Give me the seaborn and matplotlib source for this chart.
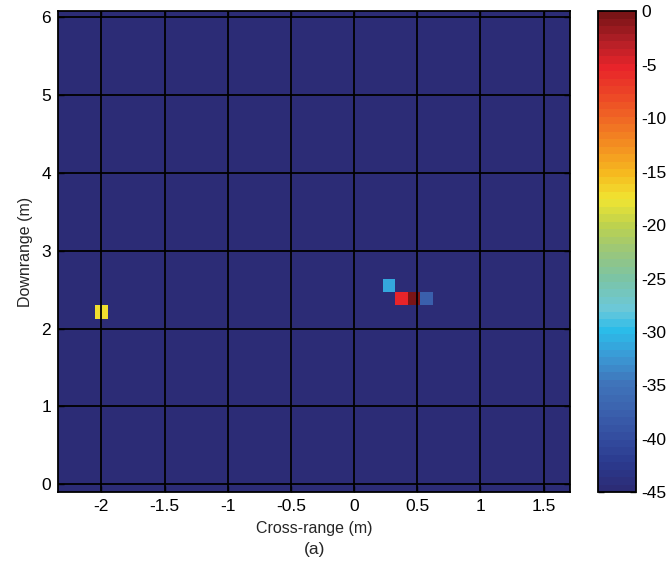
import numpy as np
import pandas as pd
import matplotlib
matplotlib.use('Agg')
import matplotlib.pyplot as plt
import seaborn as sns
from matplotlib.colors import LinearSegmentedColormap

# image grid (cross-range x downrange)
x_first_edge = -2.344
x_step = 0.09885
n_cols = 41
y_first_edge = -0.103
y_step = 0.1717
n_rows = 36

# background level (dB) and the few bright cells
floor_db = -45
hot_col = [3, 26, 27, 28, 29]
hot_row = [13, 15, 14, 14, 14]
hot_db = [-17, -31.5, -5.5, -0.5, -37.5]

x_ticks = [-2, -1.5, -1, -0.5, 0, 0.5, 1, 1.5]
y_ticks = [0, 1, 2, 3, 4, 5, 6]
cb_ticks = [-45, -40, -35, -30, -25, -20, -15, -10, -5, 0]

# jet-like colormap as printed in the reference
cmap_pos = [-45, -42.5, -40, -37.5, -35, -32.5, -30, -28, -25, -22.5, -20,
            -17.5, -15, -12.5, -10, -7.5, -5, -2.5, 0]
cmap_hex = ['#2c2c76', '#2b3a8f', '#344ea0', '#3b62ae', '#3f74ba', '#3b98d4',
            '#2bbce9', '#6bc8da', '#7cc4a4', '#9ac67a', '#bdd24e', '#f0e532',
            '#f6b91f', '#f49021', '#f06a24', '#ec4526', '#e8242a', '#b21f26',
            '#7a1416']
nodes = [(p + 45) / 45 for p in cmap_pos]
jet_print = LinearSegmentedColormap.from_list('jet_print', list(zip(nodes, cmap_hex)), N=64)

img = np.full((n_rows, n_cols), float(floor_db))
for c, r, v in zip(hot_col, hot_row, hot_db):
    img[r, c] = v
df = pd.DataFrame(img)

sns.set_style('white')
plt.rcParams['font.family'] = ['Liberation Sans', 'DejaVu Sans']
plt.rcParams['font.size'] = 12

fig = plt.figure(figsize=(6.67, 5.69), dpi=100)
ax = fig.add_axes([0.0868, 0.1348, 0.7678, 0.8453])
cax = fig.add_axes([0.8966, 0.1348, 0.057, 0.8453])

sns.heatmap(df, ax=ax, cbar_ax=cax, cmap=jet_print, vmin=-45, vmax=0,
            xticklabels=False, yticklabels=False)

ax.set_xlim(0, n_cols)
ax.set_ylim(0, n_rows)
ax.set_xticks([(v - x_first_edge) / x_step for v in x_ticks])
ax.set_xticklabels([f'{v:g}' for v in x_ticks])
ax.set_yticks([(v - y_first_edge) / y_step for v in y_ticks])
ax.set_yticklabels([f'{v:g}' for v in y_ticks], rotation=0)
ax.grid(True, color='black', linewidth=1.3)
ax.set_axisbelow(False)
for s in ax.spines.values():
    s.set_visible(True)
    s.set_color('black')
    s.set_linewidth(1.3)
ax.tick_params(direction='in', length=4, width=1, colors='black', pad=5,
               bottom=True, left=True, top=True, right=True, labelsize=12.5)
for lbl in ax.get_xticklabels() + ax.get_yticklabels():
    lbl.set_color('black')
ax.set_xlabel('Cross-range (m)', fontsize=11.5, labelpad=5)
ax.set_ylabel('Downrange (m)', fontsize=11.5, labelpad=6)
fig.text(0.472, 0.035, '(a)', ha='center', va='center', fontsize=12.5)

cb = ax.collections[0].colorbar
cb.outline.set_visible(True)
cb.outline.set_linewidth(1.3)
cb.outline.set_edgecolor('black')
cb.set_ticks(cb_ticks)
cb.set_ticklabels([f'{v:g}' for v in cb_ticks])
cax.tick_params(direction='in', length=4, width=1, left=True, right=True,
                labelsize=12.5, colors='black', pad=4)

fig.savefig('out.png', dpi=100)
